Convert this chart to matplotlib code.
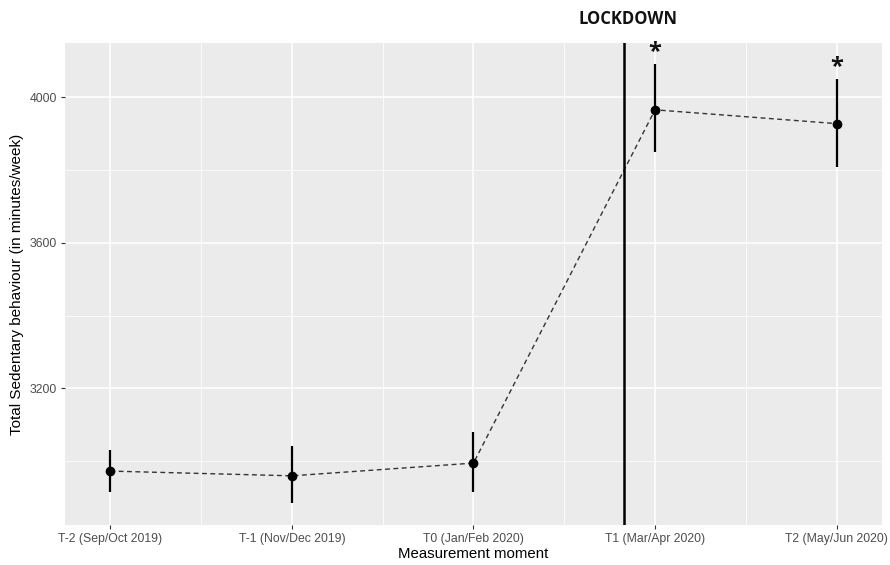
import matplotlib
matplotlib.use('Agg')
import matplotlib.pyplot as plt
from matplotlib.ticker import FixedLocator

# data
moments = ['T-2 (Sep/Oct 2019)', 'T-1 (Nov/Dec 2019)', 'T0 (Jan/Feb 2020)',
           'T1 (Mar/Apr 2020)', 'T2 (May/Jun 2020)']
means = [2972, 2959, 2994, 3966, 3928]
lower = [2915, 2885, 2915, 3849, 3808]
upper = [3030, 3041, 3080, 4091, 4050]
signif = [False, False, False, True, True]
lockdown_x = 3.83

x = list(range(1, len(moments) + 1))

plt.rcParams['font.family'] = ['Liberation Sans', 'DejaVu Sans']

fig = plt.figure(figsize=(8.9, 5.65), dpi=100)
ax = fig.add_axes([0.073, 0.071, 0.918, 0.853])
ax.set_facecolor('#EBEBEB')
for s in ax.spines.values():
    s.set_visible(False)

ax.set_xlim(0.75, 5.25)
ax.set_ylim(2824, 4150)

ax.set_xticks(x)
ax.set_xticklabels(moments)
ax.xaxis.set_minor_locator(FixedLocator([1.5, 2.5, 3.5, 4.5]))
ax.set_yticks([3200, 3600, 4000])
ax.yaxis.set_minor_locator(FixedLocator([3000, 3400, 3800]))
ax.grid(which='major', color='white', lw=1.1)
ax.grid(which='minor', color='white', lw=0.55)
ax.set_axisbelow(True)
ax.tick_params(which='major', length=3, width=0.8, color='#333333',
               labelsize=8.8, labelcolor='#4D4D4D', pad=3)
ax.tick_params(which='minor', length=0)

ax.plot(x, means, ls='--', color='#333333', lw=1, dashes=(3.5, 2.5), zorder=2)
ax.vlines(x, lower, upper, color='black', lw=1.6, zorder=3)
ax.plot(x, means, 'o', color='black', ms=6, zorder=4)

ax.axvline(lockdown_x, color='black', lw=1.8, zorder=3)
ax.text(lockdown_x + 0.02, 1.03, 'LOCKDOWN', transform=ax.get_xaxis_transform(),
        ha='center', va='bottom', fontsize=12, fontweight='bold',
        family=['Open Sans', 'DejaVu Sans'], color='#111111')

# significance stars above the error bars
for xi, up, sig in zip(x, upper, signif):
    if sig:
        ax.text(xi, up + 18, '*', ha='center', va='baseline', fontsize=17,
                fontweight='bold', family=['Open Sans', 'DejaVu Sans'],
                color='#111111')

ax.set_xlabel('Measurement moment', fontsize=10.8, labelpad=1)
ax.set_ylabel('Total Sedentary behaviour (in minutes/week)', fontsize=11, labelpad=4)

fig.savefig('out.png', dpi=100)
